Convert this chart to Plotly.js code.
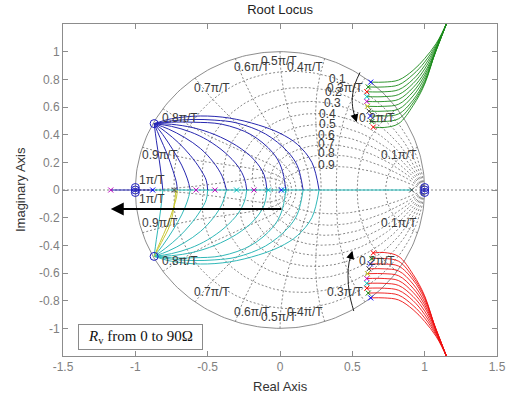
<!DOCTYPE html>
<html><head><meta charset="utf-8">
<script src="https://cdn.plot.ly/plotly-3.0.1.min.js"></script>
<style>body{margin:0;background:#fff}#g{width:513px;height:396px}</style>
</head><body><div id="g"></div>
<script>
// ---- grid definition (zgrid) ----
const zetaVals = [0.1,0.2,0.3,0.4,0.5,0.6,0.7,0.8,0.9];
const wnVals = [0.1,0.2,0.3,0.4,0.5,0.6,0.7,0.8,0.9,1.0];
const zetaLabels = ['0.1','0.2','0.3','0.4','0.5','0.6','0.7','0.8','0.9'];
const zetaLabelX = [0.40,0.37,0.36,0.33,0.33,0.32,0.32,0.32,0.32];
const zetaLabelY = [0.80,0.71,0.63,0.55,0.48,0.40,0.33,0.27,0.18];
const wnLabels = ['0.1π/T','0.2π/T','0.3π/T','0.4π/T','0.5π/T','0.6π/T','0.7π/T','0.8π/T','0.9π/T','1π/T'];
const wnLabelX = [0.82,0.668,0.449,0.173,-0.01,-0.196,-0.472,-0.69,-0.83,-0.887];
const wnLabelYup = [0.252,0.523,0.739,0.887,0.935,0.887,0.739,0.523,0.252,0.072];
const wnLabelYdn = [-0.24,-0.516,-0.739,-0.88,-0.92,-0.88,-0.739,-0.516,-0.24,-0.067];

// ---- root locus branches (upper half; lower half is the conjugate) ----
const loopX = [
 [-0.87,-0.75,-0.55,-0.35,-0.15,0.0,0.12,0.22,0.27],
 [-0.87,-0.75,-0.6,-0.45,-0.3,-0.1,0.05,0.12,0.16],
 [-0.87,-0.75,-0.6,-0.4,-0.2,-0.05,0.01,0.04],
 [-0.87,-0.75,-0.6,-0.45,-0.3,-0.18,-0.11,-0.09],
 [-0.87,-0.75,-0.62,-0.5,-0.38,-0.29,-0.245,-0.23],
 [-0.87,-0.77,-0.66,-0.55,-0.46,-0.40,-0.37],
 [-0.87,-0.79,-0.70,-0.62,-0.55,-0.51,-0.50],
 [-0.87,-0.81,-0.74,-0.68,-0.64,-0.62],
 [-0.87,-0.83,-0.78,-0.74,-0.715,-0.71],
 [-0.87,-0.855,-0.835,-0.82,-0.81]
];
const loopY = [
 [0.48,0.515,0.535,0.52,0.47,0.41,0.33,0.20,0],
 [0.48,0.50,0.51,0.505,0.485,0.405,0.28,0.175,0],
 [0.48,0.49,0.49,0.475,0.40,0.27,0.16,0],
 [0.48,0.475,0.45,0.40,0.32,0.22,0.11,0],
 [0.48,0.46,0.42,0.36,0.27,0.17,0.08,0],
 [0.48,0.44,0.38,0.30,0.20,0.10,0],
 [0.48,0.42,0.34,0.25,0.15,0.07,0],
 [0.48,0.40,0.29,0.18,0.08,0],
 [0.48,0.38,0.26,0.14,0.05,0],
 [0.48,0.36,0.22,0.10,0]
];
const yellowX = [-0.72,-0.73,-0.76,-0.82,-0.87];
const yellowY = [0,-0.10,-0.25,-0.38,-0.48];

// right-hand branches (upper = green, lower = red, conjugate)
const branchStartX = [0.627,0.61,0.60,0.60,0.60,0.605,0.615,0.625,0.635,0.645];
const branchStartY = [0.78,0.745,0.71,0.675,0.64,0.605,0.57,0.535,0.495,0.455];
const branchX = [0.72,0.82,0.92,1.0,1.08,1.15,1.17];
const branchY = [
 [0.78,0.795,0.865,0.95,1.06,1.2,1.25],
 [0.745,0.76,0.835,0.925,1.05,1.2,1.25],
 [0.71,0.725,0.80,0.90,1.04,1.2,1.25],
 [0.675,0.69,0.77,0.875,1.03,1.2,1.25],
 [0.64,0.655,0.74,0.85,1.02,1.2,1.25],
 [0.605,0.62,0.71,0.83,1.015,1.2,1.25],
 [0.57,0.585,0.68,0.81,1.01,1.2,1.25],
 [0.535,0.55,0.65,0.79,1.01,1.2,1.25],
 [0.495,0.515,0.63,0.775,1.015,1.2,1.25],
 [0.452,0.48,0.61,0.765,1.02,1.2,1.25]
];
const markColors = ['#0000ff','#008000','#ff0000','#00bfbf','#bf00bf','#bfbf00','#404040','#0000ff','#008000','#ff0000'];

// poles on the real axis
const axisPoleX = [-1.17,-0.88,-0.73,-0.58,-0.45,-0.30,-0.18,-0.08,0.01,0.03,0.91];
const axisPoleC = ['#bf00bf','#0000ff','#404040','#bf00bf','#bf00bf','#00bfbf','#bf00bf','#00bfbf','#0000ff','#00bfbf','#404040'];
const zeroX = [-0.87,-0.87,-1,-1,-1,1,1,1];
const zeroY = [0.48,-0.48,0.018,-0.018,0,0.018,-0.018,0];

const xTicks = [-1.5,-1,-0.5,0,0.5,1,1.5];
const xTickText = ['-1.5','-1','-0.5','0','0.5','1','1.5'];
const yTicks = [-1,-0.8,-0.6,-0.4,-0.2,0,0.2,0.4,0.6,0.8,1];
const yTickText = ['-1','-0.8','-0.6','-0.4','-0.2','0','0.2','0.4','0.6','0.8','1'];

const traces = [];
const gridLine = {color:'#6a6a6a', width:0.8, dash:'2px,2px'};
// real axis dotted
traces.push({x:[-1.5,1.5], y:[0,0], mode:'lines', line:gridLine, hoverinfo:'skip'});
// zeta curves
zetaVals.forEach(z => {
  const xs=[], ys=[], xl=[], yl=[];
  for (let i=0;i<=120;i++){ const th=Math.PI*i/120; const r=Math.exp(-z*th/Math.sqrt(1-z*z)); xs.push(r*Math.cos(th)); ys.push(r*Math.sin(th)); xl.push(r*Math.cos(th)); yl.push(-r*Math.sin(th)); }
  traces.push({x:xs,y:ys,mode:'lines',line:gridLine,hoverinfo:'skip'});
  traces.push({x:xl,y:yl,mode:'lines',line:gridLine,hoverinfo:'skip'});
});
// wn curves
wnVals.forEach(k => {
  const xs=[], ys=[], xl=[], yl=[];
  for (let i=0;i<=60;i++){ const z=i/60; const r=Math.exp(-z*k*Math.PI); const th=k*Math.PI*Math.sqrt(1-z*z); xs.push(r*Math.cos(th)); ys.push(r*Math.sin(th)); xl.push(r*Math.cos(th)); yl.push(-r*Math.sin(th)); }
  traces.push({x:xs,y:ys,mode:'lines',line:gridLine,hoverinfo:'skip'});
  traces.push({x:xl,y:yl,mode:'lines',line:gridLine,hoverinfo:'skip'});
});
// unit circle
(function(){ const xs=[],ys=[]; for(let i=0;i<=240;i++){const t=2*Math.PI*i/240; xs.push(Math.cos(t)); ys.push(Math.sin(t));}
  traces.push({x:xs,y:ys,mode:'lines',line:{color:'#808080',width:0.9},hoverinfo:'skip'}); })();

// real-axis locus
traces.push({x:[-1.17,-0.87],y:[0,0],mode:'lines',line:{color:'#2020b0',width:1}});
traces.push({x:[-0.87,0.92],y:[0,0],mode:'lines',line:{color:'#20b8b8',width:1}});

// loops
loopX.forEach((xs,i) => {
  traces.push({x:xs,y:loopY[i],mode:'lines',line:{color:'#2828b0',width:1,shape:'spline'}});
  traces.push({x:xs,y:loopY[i].map(v=>-v),mode:'lines',line:{color: i===8 ? '#c8c830' : '#30b8b8',width:1,shape:'spline'}});
});
traces.push({x:yellowX,y:yellowY,mode:'lines',line:{color:'#c8c830',width:1,shape:'spline'}});

// right branches
branchY.forEach((ys,i) => {
  const xs=[branchStartX[i]].concat(branchX);
  const yy=[branchStartY[i]].concat(ys);
  traces.push({x:xs,y:yy,mode:'lines',line:{color:'#1a8a1a',width:0.9,shape:'spline'}});
  traces.push({x:xs,y:yy.map(v=>-v),mode:'lines',line:{color:'#ee1010',width:0.9,shape:'spline'}});
});
// start markers of right branches
const xMark = (c)=>({symbol:'x-thin-open',size:5,color:c,line:{width:1,color:c}});
traces.push({x:branchStartX,y:branchStartY,mode:'markers',marker:xMark(markColors)});
traces.push({x:branchStartX,y:branchStartY.map(v=>-v),mode:'markers',marker:xMark(markColors)});
// real-axis poles
traces.push({x:axisPoleX,y:axisPoleX.map(()=>0),mode:'markers',marker:xMark(axisPoleC)});
// zeros
traces.push({x:zeroX,y:zeroY,mode:'markers',marker:{symbol:'circle-open',size:8,color:'#2020c0',line:{width:1,color:'#2020c0'}}});
traces.push({x:[-1,1],y:[0,0],mode:'markers',marker:xMark('#2020c0')});

// curved arrows
traces.push({x:[0.553,0.52,0.50,0.505,0.528],y:[0.85,0.77,0.67,0.58,0.50],mode:'lines',line:{color:'#222',width:1,shape:'spline'}});
traces.push({x:[0.51,0.48,0.47,0.478,0.50],y:[-0.875,-0.75,-0.62,-0.52,-0.45],mode:'lines',line:{color:'#222',width:1,shape:'spline'}});

const ann = [];
const lblFont = {family:'Liberation Sans, Arial, sans-serif', size:12, color:'#3a3a3a'};
zetaLabels.forEach((t,i)=>ann.push({x:zetaLabelX[i],y:zetaLabelY[i],text:t,showarrow:false,font:lblFont}));
wnLabels.forEach((t,i)=>{
  ann.push({x:wnLabelX[i],y:wnLabelYup[i],text:t,showarrow:false,font:lblFont});
  ann.push({x:wnLabelX[i],y:wnLabelYdn[i],text:t,showarrow:false,font:lblFont});
});
// big arrow
ann.push({x:-1.17,y:-0.137,ax:0.02,ay:-0.137,axref:'x',ayref:'y',xref:'x',yref:'y',text:'',showarrow:true,arrowhead:2,arrowsize:1.3,arrowwidth:2,arrowcolor:'#000'});
// arrow heads of curved arrows
ann.push({x:0.53,y:0.49,ax:0.51,ay:0.56,axref:'x',ayref:'y',text:'',showarrow:true,arrowhead:2,arrowsize:1.6,arrowwidth:1,arrowcolor:'#000'});
ann.push({x:0.50,y:-0.44,ax:0.482,ay:-0.51,axref:'x',ayref:'y',text:'',showarrow:true,arrowhead:2,arrowsize:1.6,arrowwidth:1,arrowcolor:'#000'});
// legend box
ann.push({x:-0.964,y:-1.065,xref:'x',yref:'y',text:'<i>R</i><sub>v</sub> from 0 to 90Ω',showarrow:false,
  font:{family:'Liberation Serif, Times New Roman, serif',size:15,color:'#111'},bordercolor:'#8a8a8a',borderwidth:1,borderpad:1,bgcolor:'#fff',width:121,height:22});
// axis titles
const axFont = {family:'Liberation Sans, Arial, sans-serif', size:13, color:'#333'};
ann.push({xref:'paper',yref:'paper',x:0.5,y:-0.093,text:'Real Axis',showarrow:false,font:axFont,yanchor:'middle'});
ann.push({xref:'paper',yref:'paper',x:-0.099,y:0.5,text:'Imaginary Axis',showarrow:false,font:axFont,textangle:-90,xanchor:'center'});

const axisCommon = {showgrid:false, zeroline:false, showline:true, linecolor:'#8c8c8c', linewidth:1, mirror:'ticks', ticks:'inside', ticklen:5, tickcolor:'#8c8c8c', tickfont:{family:'Liberation Sans, Arial, sans-serif', size:12, color:'#808080'}, tickmode:'array'};

const layout = {
  width:513, height:396, margin:{l:63,r:16,t:24,b:40}, showlegend:false,
  paper_bgcolor:'#fff', plot_bgcolor:'#fff',
  title:{text:'Root Locus', font:{family:'Liberation Sans, Arial, sans-serif', size:13, color:'#222'}, x:0.546, xanchor:'center', y:0.977, yanchor:'middle'},
  xaxis:Object.assign({}, axisCommon, {range:[-1.5,1.5], tickvals:xTicks, ticktext:xTickText}),
  yaxis:Object.assign({}, axisCommon, {range:[-1.2,1.2], tickvals:yTicks, ticktext:yTickText}),
  annotations:ann
};
Plotly.newPlot('g', traces, layout, {staticPlot:true, displayModeBar:false});
</script></body></html>
